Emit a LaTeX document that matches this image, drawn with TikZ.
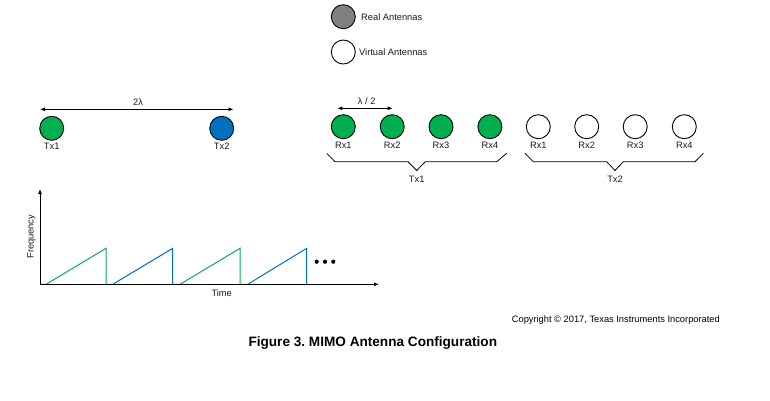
\documentclass[tikz,border=0pt]{standalone}
\usepackage{fontspec}
\setmainfont{Liberation Sans}
\usetikzlibrary{arrows.meta}
\definecolor{antgreen}{HTML}{00B050}
\definecolor{antblue}{HTML}{0070C0}
\definecolor{antgray}{HTML}{808080}
\definecolor{lbl}{HTML}{1A1A1A}
\frenchspacing
\begin{document}
\begin{tikzpicture}[x=1pt,y=-1pt,
  ant/.style={circle,draw=black,line width=0.9pt,minimum size=24pt,inner sep=0pt},
  lab/.style={font=\fontsize{9.3}{10}\selectfont,text=lbl,inner sep=0pt},
  dim/.style={line width=0.8pt,{Latex[length=5pt,width=4pt]}-{Latex[length=5pt,width=4pt]}},
  brace/.style={line width=0.8pt,line join=miter},
  axis/.style={line width=0.8pt,-{Latex[length=5pt,width=4pt]}},
  ramp/.style={line width=1pt}]
\useasboundingbox (0,0) rectangle (770,400);
% legend
\node[ant,fill=antgray] (lgreal) at (343.3,16.7) {};
\node[ant,fill=white] (lgvirt) at (343.3,52) {};
\node[lab,anchor=west] (lgrealt) at (361,16.7) {Real Antennas};
\node[lab,anchor=west] (lgvirtt) at (359,52.5) {Virtual Antennas};
% Tx antennas
\node[ant,fill=antgreen] (tx1) at (51.7,128.3) {};
\node[ant,fill=antblue] (tx2) at (221.7,128.3) {};
\node[lab] (tx1t) at (51.7,146.7) {Tx1};
\node[lab] (tx2t) at (221.7,146.7) {Tx2};
\coordinate (d1a) at (40,109.3);
\coordinate (d1b) at (233.5,109.3);
\draw[dim] (d1a) -- (d1b);
\node[lab] (twolam) at (138,102.5) {2λ};
% Rx antennas
\foreach \i/\x in {1/343.3,2/392.2,3/441,4/489.9}{
  \node[ant,fill=antgreen] (r\i) at (\x,126.7) {};
  \node[lab] (r\i t) at (\x,145) {Rx\i};
}
\foreach \i/\x in {1/538.3,2/586.7,3/635.2,4/684.3}{
  \node[ant,fill=white] (v\i) at (\x,126.7) {};
  \node[lab] (v\i t) at (\x,145) {Rx\i};
}
\coordinate (d2a) at (337.3,108.3);
\coordinate (d2b) at (392.7,108.3);
\draw[dim] (d2a) -- (d2b);
\node[lab] (halflam) at (366.7,101.5) {λ / 2};
% braces
\draw[brace] (326.7,153.3) -- (335,161.7) -- (408,161.7) -- (416.7,170.5) -- (425.3,161.7) -- (496.7,161.7) -- (506.7,153.3);
\node[lab] (btx1) at (416.7,179.3) {Tx1};
\draw[brace] (525,153.3) -- (533.3,161.7) -- (606.7,161.7) -- (615,170.5) -- (623.3,161.7) -- (695,161.7) -- (703.3,153.3);
\node[lab] (btx2) at (615,179.3) {Tx2};
% chart
\coordinate (orig) at (40,284.3);
\coordinate (ytip) at (40,189);
\coordinate (xtip) at (379,284.3);
\draw[ramp,antgreen] (40,284.3) -- (46,284.3) -- (106,248.3) -- (106,284.3);
\draw[ramp,antblue] (106,284.3) -- (112.7,284.3) -- (172.7,248.3) -- (172.7,284.3);
\draw[ramp,antgreen] (172.7,284.3) -- (180,284.3) -- (240,248.3) -- (240,284.3);
\draw[ramp,antblue] (240,284.3) -- (247.7,284.3) -- (306.7,248.3) -- (306.7,284.3);
\draw[axis] (orig) -- (ytip);
\draw[axis] (orig) -- (xtip);
\node[lab,rotate=90] (freq) at (31.5,236.7) {Frequency};
\node[lab] (time) at (221.7,293.5) {Time};
\foreach \x in {316.7,325,333.3}{\fill (\x,261.7) circle (2.1pt);}
% captions
\node[lab,anchor=east,text=black] (copy) at (720,320) {Copyright \textcopyright{} 2017, Texas Instruments Incorporated};
\node[anchor=west,inner sep=0pt,font=\fontsize{13.6}{15}\selectfont\bfseries] (title) at (248.3,342.7) {Figure 3. MIMO Antenna Configuration};
\end{tikzpicture}
\end{document}
